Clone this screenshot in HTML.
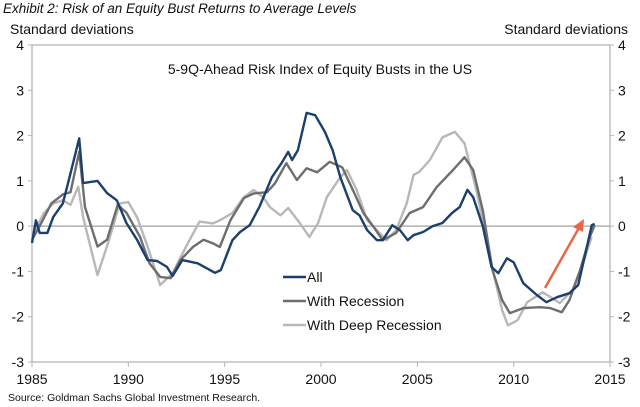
<!DOCTYPE html>
<html><head><meta charset="utf-8">
<style>
body{margin:0;background:#fff;font-family:"Liberation Sans",Arial,sans-serif;}
svg{display:block}
text{font-family:"Liberation Sans",Arial,sans-serif;fill:#111}
</style></head>
<body>
<svg id="chart" width="640" height="407" viewBox="0 0 640 407">
<text x="3" y="13" font-size="13.5" font-style="italic">Exhibit 2: Risk of an Equity Bust Returns to Average Levels</text>
<text x="10" y="34" font-size="14">Standard deviations</text>
<text x="628" y="34" font-size="14" text-anchor="end">Standard deviations</text>
<text x="320" y="74" font-size="14" text-anchor="middle">5-9Q-Ahead Risk Index of Equity Busts in the US</text>
<g id="axes"></g>
<g id="series"></g>
<g id="legend"></g>
<text x="8" y="401" font-size="10.5">Source: Goldman Sachs Global Investment Research.</text>
</svg>
<script>
const yTicks=[4,3,2,1,0,-1,-2,-3];
const xTicks=[1985,1990,1995,2000,2005,2010,2015];
const allYears=[1985,1985.2,1985.4,1985.8,1986.1,1986.6,1986.9,1987.45,1987.65,1988.4,1988.9,1989.4,1989.9,1990.45,1991.0,1991.5,1992.0,1992.3,1992.8,1993.6,1994.5,1994.8,1995.4,1995.8,1996.3,1996.8,1997.45,1997.95,1998.3,1998.5,1998.8,1999.25,1999.7,2000.2,2000.6,2001.0,2001.65,2002.0,2002.4,2002.9,2003.2,2003.7,2004.1,2004.5,2004.8,2005.3,2005.8,2006.3,2006.8,2007.2,2007.6,2007.9,2008.4,2008.85,2009.2,2009.65,2010.0,2010.5,2011.2,2011.7,2012.25,2012.9,2013.35,2013.8,2014.05,2014.2];
const allValues=[-0.37,0.13,-0.15,-0.15,0.2,0.5,1.0,1.94,0.95,1.0,0.73,0.57,0.07,-0.3,-0.75,-0.77,-0.9,-1.1,-0.75,-0.82,-1.03,-0.97,-0.31,-0.13,0.02,0.42,1.08,1.39,1.64,1.46,1.68,2.5,2.45,2.08,1.68,1.08,0.35,0.24,-0.09,-0.31,-0.31,0.02,-0.09,-0.31,-0.2,-0.13,0,0.07,0.29,0.42,0.8,0.64,0,-0.9,-1.04,-0.71,-0.8,-1.26,-1.52,-1.68,-1.57,-1.48,-1.3,-0.46,0.02,0.05];
const recYears=[1985,1985.4,1986.0,1986.6,1987.0,1987.45,1987.75,1988.4,1988.9,1989.45,1989.9,1990.6,1991.1,1991.65,1992.2,1992.7,1993.35,1993.9,1994.4,1994.75,1995.3,1996.0,1996.5,1997.2,1997.6,1998.2,1998.75,1999.25,1999.8,2000.45,2001.1,2001.65,2002.2,2002.7,2003.2,2003.9,2004.6,2005.3,2006.0,2006.85,2007.45,2007.9,2008.4,2008.9,2009.4,2009.8,2010.5,2011.35,2011.9,2012.5,2012.9,2013.45,2013.95,2014.2];
const recValues=[-0.3,0.0,0.5,0.7,0.75,1.64,0.42,-0.45,-0.3,0.47,0.3,-0.23,-0.82,-1.12,-1.15,-0.75,-0.46,-0.3,-0.38,-0.46,0.13,0.62,0.72,0.75,0.94,1.39,1.02,1.28,1.19,1.42,1.3,0.8,0.29,0,-0.31,-0.15,0.29,0.42,0.86,1.24,1.52,1.24,0.35,-0.97,-1.63,-1.92,-1.81,-1.79,-1.81,-1.9,-1.63,-0.97,-0.24,0.02];
const deepYears=[1985,1985.6,1986.1,1986.6,1987.0,1987.4,1987.65,1988.4,1989.0,1989.55,1990.0,1990.45,1991.0,1991.65,1992.3,1993.0,1993.7,1994.4,1994.75,1995.4,1996.0,1996.5,1997.0,1997.35,1997.9,1998.3,1998.9,1999.4,1999.85,2000.3,2001.0,2001.35,2001.85,2002.4,2002.9,2003.4,2003.9,2004.45,2004.8,2005.1,2005.65,2006.3,2006.95,2007.45,2008.1,2008.8,2009.4,2009.7,2010.2,2010.7,2011.5,2012.0,2012.4,2013.05,2013.6,2014.05];
const deepValues=[-0.22,0.28,0.5,0.57,0.47,0.87,0.2,-1.08,-0.3,0.5,0.53,0.2,-0.45,-1.3,-1.04,-0.45,0.1,0.06,0.13,0.29,0.64,0.8,0.64,0.42,0.24,0.4,0.07,-0.24,0.07,0.64,1.08,1.24,0.8,0.13,-0.09,-0.31,-0.09,0.5,1.13,1.2,1.46,1.96,2.08,1.83,0.73,-0.75,-1.85,-2.19,-2.08,-1.68,-1.46,-1.59,-1.7,-1.41,-0.82,-0.24];
const legendLabels=["All","With Recession","With Deep Recession"];

const NS="http://www.w3.org/2000/svg";
const X0=32,X1=610,Y0=45,Y1=362;
function xs(yr){return X0+(yr-1985)/(2015-1985)*(X1-X0);}
function ys(v){return Y0+(4-v)/7*(Y1-Y0);}
function mk(tag,attrs,parent){const e=document.createElementNS(NS,tag);for(const k in attrs)e.setAttribute(k,attrs[k]);parent.appendChild(e);return e;}
const axes=document.getElementById('axes');
let e;
e=mk('rect',{x:X0,y:Y0,width:X1-X0,height:Y1-Y0,fill:'none',stroke:'#b5b5b5','stroke-width':1.3},axes);


e=mk('line',{x1:X0,x2:X1,y1:ys(0),y2:ys(0),stroke:'#b0b0b0','stroke-width':1.5},axes);


yTicks.forEach(v=>{
  mk('line',{x1:X0-4,x2:X0,y1:ys(v),y2:ys(v),stroke:'#b5b5b5'},axes);
  mk('line',{x1:X1,x2:X1+4,y1:ys(v),y2:ys(v),stroke:'#b5b5b5'},axes);
  let t=mk('text',{x:X0-8,y:ys(v)+5,'font-size':14,'text-anchor':'end'},axes);t.textContent=v;
  
  
  t=mk('text',{x:X1+8,y:ys(v)+5,'font-size':14},axes);t.textContent=v;
  
  
});
xTicks.forEach(yr=>{
  mk('line',{x1:xs(yr),x2:xs(yr),y1:Y1,y2:Y1+5,stroke:'#b5b5b5'},axes);
  const t=mk('text',{x:xs(yr),y:Y1+22,'font-size':14,'text-anchor':'middle'},axes);t.textContent=yr;
  
  
});
const ser=document.getElementById('series');
function line(years,vals,color,name){
  const d=years.map((y,i)=>(i?'L':'M')+xs(y).toFixed(1)+','+ys(vals[i]).toFixed(1)).join('');
  const p=mk('path',{d:d,fill:'none',stroke:color,'stroke-width':2.4,'stroke-linejoin':'round'},ser);
  
  
}
line(deepYears,deepValues,'#b8b8b8','series-deep-recession');
line(recYears,recValues,'#6e6e6e','series-recession');
line(allYears,allValues,'#1b3f6e','series-all');
const ar=mk('g',{},ser);


mk('line',{x1:545,y1:288,x2:580,y2:226,stroke:'#e8674a','stroke-width':2.5},ar);
mk('polygon',{points:'584,219 573,227 583,232',fill:'#e8674a'},ar);
const lg=document.getElementById('legend');
const lcolors=['#1b3f6e','#6e6e6e','#b8b8b8'];
legendLabels.forEach((lab,i)=>{
  const y=277+i*24;
  const g=mk('g',{},lg);
  
  
  mk('line',{x1:283,x2:306,y1:y,y2:y,stroke:lcolors[i],'stroke-width':2.4},g);
  const t=mk('text',{x:307,y:y+5,'font-size':14},g);t.textContent=lab;
});
</script>
</body></html>
